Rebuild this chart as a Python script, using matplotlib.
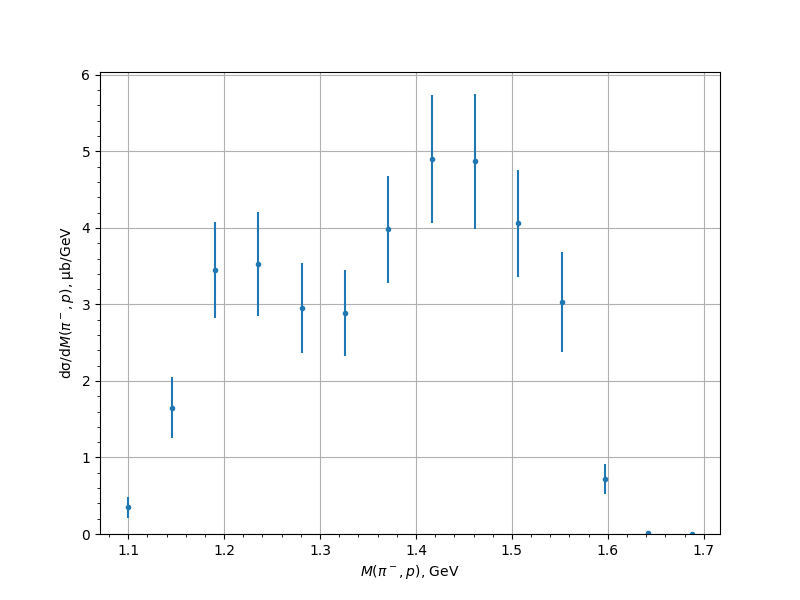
import numpy as np
import matplotlib as mpl
mpl.use('Agg')
import matplotlib.pyplot as plt

# invariant mass bins (GeV) and cross section (mub/GeV)
mass = [1.1, 1.1452, 1.1904, 1.2356, 1.2808, 1.326, 1.3712,
        1.4163, 1.4615, 1.5067, 1.5519, 1.5971, 1.6423, 1.6875]
dsigma = [0.35, 1.65, 3.45, 3.53, 2.95, 2.89, 3.98,
          4.90, 4.87, 4.06, 3.03, 0.72, 0.013, 0.0]
dsigma_err = [0.135, 0.40, 0.63, 0.68, 0.59, 0.56, 0.70,
              0.84, 0.88, 0.70, 0.65, 0.20, 0.005, 0.0]

fig = plt.figure(figsize=(8, 6), dpi=100)
plt.errorbar(mass, dsigma, yerr=dsigma_err, fmt='.')
plt.ylim(bottom=0)
plt.minorticks_on()
plt.grid()
plt.xlabel(r'$M(\pi^-, p)$, GeV')
plt.ylabel(r'dσ/d$M(\pi^-, p)$, μb/GeV')
plt.savefig('out.png')
